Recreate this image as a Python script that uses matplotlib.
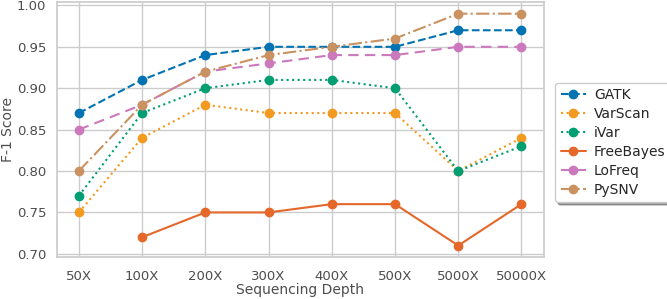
import numpy as np
import matplotlib.pyplot as plt
import seaborn as sns

depths = ["50X", "100X", "200X", "300X", "400X", "500X", "5000X", "50000X"]

gatk = [0.87, 0.91, 0.94, 0.95, 0.95, 0.95, 0.97, 0.97]
varscan = [0.75, 0.84, 0.88, 0.87, 0.87, 0.87, 0.80, 0.84]
ivar = [0.77, 0.87, 0.90, 0.91, 0.91, 0.90, 0.80, 0.83]
freebayes = [np.nan, 0.72, 0.75, 0.75, 0.76, 0.76, 0.71, 0.76]
lofreq = [0.85, 0.88, 0.92, 0.93, 0.94, 0.94, 0.95, 0.95]
pysnv = [0.80, 0.88, 0.92, 0.94, 0.95, 0.96, 0.99, 0.99]

sns.set_theme(style="whitegrid")
plt.rcParams['font.family'] = ['DejaVu Sans']
pal = sns.color_palette("colorblind")

series = [
    ("GATK", gatk, pal[0], "--"),
    ("VarScan", varscan, "#f39a20", ":"),
    ("iVar", ivar, pal[2], ":"),
    ("FreeBayes", freebayes, "#e5672a", "-"),
    ("LoFreq", lofreq, pal[4], (0, (5, 3))),
    ("PySNV", pysnv, pal[5], "-."),
]

fig, ax = plt.subplots(figsize=(6.67, 2.99), dpi=100)
x = np.arange(len(depths))
for name, vals, col, ls in series:
    ax.plot(x, vals, linestyle=ls, color=col, marker="o", markersize=6,
            linewidth=1.5, label=name)

ax.set_xticks(x)
ax.set_xticklabels(depths)
ax.set_yticks([0.70, 0.75, 0.80, 0.85, 0.90, 0.95, 1.00])
ax.set_yticklabels(["0.70", "0.75", "0.80", "0.85", "0.90", "0.95", "1.00"])
ax.tick_params(labelsize=9.5, colors="0.3")
ax.tick_params(axis="y", pad=1.5)
ax.set_xlabel("Sequencing Depth", fontsize=10, color="0.3", labelpad=0)
ax.set_ylabel("F-1 Score", fontsize=10, color="0.3", labelpad=1)

ax.legend(loc="center left", bbox_to_anchor=(1.015, 0.45), shadow=True,
          fontsize=10, frameon=True, handlelength=1.8, labelspacing=0.35,
          borderpad=0.4, handletextpad=0.6, borderaxespad=0.3)

plt.subplots_adjust(left=0.085, right=0.815, top=0.993, bottom=0.14)
fig.savefig("out.png", dpi=100)
